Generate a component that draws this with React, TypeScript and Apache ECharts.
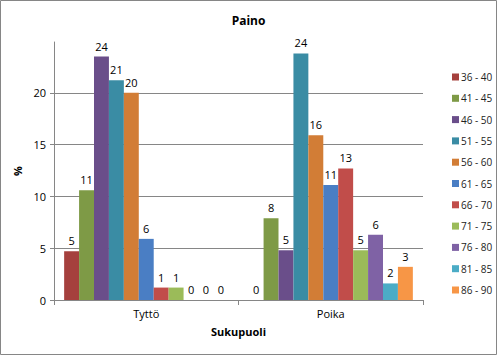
import React, { useEffect, useRef } from "react";
import * as echarts from "echarts";

const categories = ["Tyttö", "Poika"];
const seriesNames = ["36 - 40", "41 - 45", "46 - 50", "51 - 55", "56 - 60", "61 - 65", "66 - 70", "71 - 75", "76 - 80", "81 - 85", "86 - 90"];
const tyttoValues = [4.7, 10.6, 23.5, 21.2, 20.0, 5.9, 1.2, 1.2, 0, 0, 0];
const poikaValues = [0, 7.9, 4.8, 23.8, 15.9, 11.1, 12.7, 4.8, 6.3, 1.6, 3.2];
const gridValues = [5, 10, 15, 20];
const colors = ["#A5403D", "#7E9A46", "#6A4E8A", "#3A8CA4", "#D27D36", "#4A7EC4", "#C14D4A", "#9BBB59", "#7F62A5", "#4BACC6", "#F79646"];

const FONT = "'Open Sans', 'Noto Sans', sans-serif";

export default function App() {
  const ref = useRef<HTMLDivElement>(null);
  useEffect(() => {
    document.body.style.margin = "0";
    if (!ref.current) return;
    const chart = echarts.init(ref.current, null, { renderer: "svg" });
    chart.setOption({
      animation: false,
      backgroundColor: "#fff",
      color: colors,
      title: {
        text: "Paino",
        left: "center",
        top: 9,
        textStyle: { fontFamily: FONT, fontSize: 12, fontWeight: "bold", color: "#000" },
      },
      legend: {
        orient: "vertical",
        left: 447,
        top: 67,
        itemWidth: 7,
        itemHeight: 7,
        itemGap: 11.3,
        icon: "rect",
        textStyle: { fontFamily: FONT, fontSize: 10, color: "#222", padding: [0, 0, 0, -3] },
        data: seriesNames,
      },
      grid: { left: 54, right: 74, top: 42, bottom: 55 },
      xAxis: {
        type: "category",
        data: categories,
        name: "Sukupuoli",
        nameLocation: "middle",
        nameGap: 26,
        nameTextStyle: { fontFamily: FONT, fontSize: 11, fontWeight: "bold", color: "#000" },
        axisLine: { lineStyle: { color: "#868686" } },
        axisTick: { show: true, length: 5, lineStyle: { color: "#868686" } },
        axisLabel: { fontFamily: FONT, fontSize: 11, color: "#000", margin: 8 },
      },
      yAxis: {
        type: "value",
        min: 0,
        max: 24.9,
        interval: 5,
        name: "%",
        nameLocation: "middle",
        nameGap: 27,
        nameRotate: 90,
        nameTextStyle: { fontFamily: FONT, fontSize: 11, fontWeight: "bold", color: "#000" },
        axisLine: { show: true, lineStyle: { color: "#868686" } },
        axisTick: { show: true, length: 4, lineStyle: { color: "#868686" } },
        axisLabel: {
          fontFamily: FONT,
          fontSize: 11,
          color: "#000",
          margin: 8,
          showMaxLabel: false,
          formatter: (v: number) => (v > 20 ? "" : String(v)),
        },
        splitLine: { show: false },
      },
      series: seriesNames.map((name, i) => ({
        name,
        type: "bar",
        barGap: "0%",
        barCategoryGap: "11%",
        data: [tyttoValues[i], poikaValues[i]],
        label: {
          show: true,
          position: "top",
          distance: 5,
          fontFamily: FONT,
          fontSize: 11,
          color: "#000",
          formatter: (p: any) => String(Math.round(p.value)),
        },
        z: 2,
        ...(i === 0
          ? {
              markLine: {
                silent: true,
                symbol: "none",
                label: { show: false },
                z: 0,
                lineStyle: { color: "#868686", type: "solid", width: 1 },
                data: gridValues.map((v) => ({ yAxis: v })),
              },
            }
          : {}),
      })),
      graphic: [
        {
          type: "rect",
          shape: { x: 0.5, y: 0.5, width: 496, height: 354 },
          style: { fill: "none", stroke: "#868686", lineWidth: 1 },
          silent: true,
        },
      ],
    });
    return () => chart.dispose();
  }, []);
  return <div ref={ref} style={{ width: 497, height: 355 }} />;
}
